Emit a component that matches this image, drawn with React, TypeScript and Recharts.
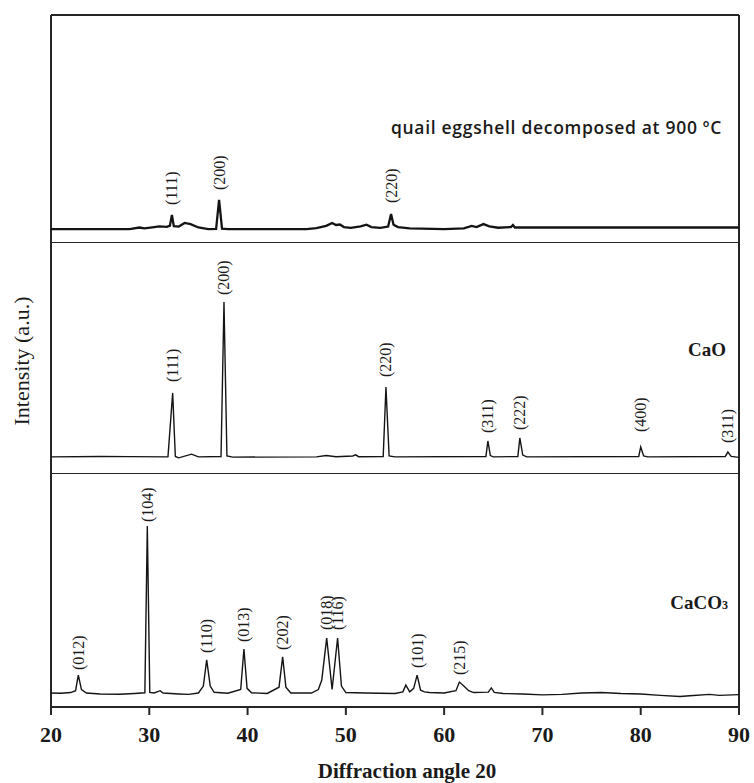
import React from 'react';
import { ComposedChart, Line, Scatter, XAxis, YAxis, ReferenceLine } from 'recharts';

// ---------- data (2θ in degrees, intensity in a.u. scaled 0–100 per panel) ----------
const eggX = [20, 28, 29, 29.5, 30.5, 31, 31.8, 32.1, 32.3, 32.5, 33, 33.6, 34.2, 35, 36, 36.8, 37.1, 37.4, 38, 46, 47, 48, 48.6, 49, 49.4, 49.8, 50.5, 51.5, 52.1, 52.6, 53.5, 54.3, 54.6, 54.85, 55.3, 56.5, 60, 62, 62.8, 63.3, 64, 64.6, 65.5, 66.8, 67, 67.2, 70, 90];
const eggY = [6.1, 6.1, 6.8, 6.4, 7.0, 7.3, 7.1, 7.6, 12.3, 7.4, 7.2, 8.8, 8.3, 6.8, 6.1, 6.2, 18.9, 6.3, 6.1, 6.1, 6.5, 7.5, 8.8, 7.9, 8.1, 7.0, 6.6, 7.3, 8.0, 7.0, 6.6, 7.2, 12.7, 8.0, 7.0, 6.4, 6.1, 6.4, 7.5, 7.0, 8.3, 7.3, 6.7, 7.0, 7.9, 6.8, 6.8, 6.8];
const eggPeakX = [32.3, 37.1, 54.6];
const eggPeakLabelY = [16.7, 23.2, 17.5];
const eggPeakNames = ['(111)', '(200)', '(220)'];

const caoX = [20, 25, 28, 31.9, 32.38, 32.65, 33, 34.3, 35, 37.3, 37.6, 37.9, 38.5, 47, 48, 49, 50.7, 51, 51.3, 53.8, 54.08, 54.4, 55, 64.25, 64.45, 64.7, 65, 67.5, 67.7, 68.0, 68.4, 79.8, 80.0, 80.3, 80.7, 88.6, 88.87, 89.2, 90];
const caoY = [7.4, 7.6, 7.5, 7.4, 35.1, 7.6, 7.0, 8.6, 7.4, 7.6, 74.5, 7.8, 7.3, 7.4, 8.0, 7.5, 7.8, 8.3, 7.5, 7.6, 37.7, 7.8, 7.4, 7.6, 14.3, 8.0, 7.4, 7.6, 15.6, 8.2, 7.4, 7.6, 11.7, 7.8, 7.4, 7.6, 9.5, 7.6, 7.2];
const caoPeakX = [32.38, 37.6, 54.08, 64.45, 67.7, 80.0, 88.87];
const caoPeakLabelY = [39.8, 77.5, 42.0, 17.7, 19.0, 18.2, 13.4];
const caoPeakNames = ['(111)', '(200)', '(220)', '(311)', '(222)', '(400)', '(311)'];

const caco3X = [20, 21, 22, 22.5, 22.78, 23.1, 23.6, 25, 27, 28.5, 29.55, 29.8, 30.05, 30.5, 31.1, 31.4, 33, 34, 35, 35.5, 35.84, 36.2, 36.6, 38, 39.3, 39.63, 39.95, 40.4, 42, 43.2, 43.57, 43.9, 44.4, 46.5, 47.2, 47.55, 48.05, 48.6, 49.16, 49.55, 50, 52, 55, 55.8, 56.1, 56.5, 56.9, 57.25, 57.6, 58, 58.5, 60, 61.2, 61.55, 62, 62.5, 63, 64.5, 64.8, 65.1, 66, 68, 70, 72, 74, 76, 78, 80, 82, 84, 85, 87, 88, 90];
const caco3Y = [6.0, 5.9, 6.2, 7.0, 13.7, 7.5, 6.0, 5.6, 5.5, 5.8, 6.1, 77.7, 6.3, 6.0, 7.0, 6.0, 5.6, 5.4, 6.0, 9.0, 20.2, 9.0, 6.3, 5.9, 7.5, 24.9, 8.0, 6.1, 5.8, 8.5, 21.5, 8.5, 6.0, 6.0, 7.5, 11.6, 29.6, 7.5, 29.6, 9.0, 6.2, 6.0, 5.8, 6.5, 9.4, 6.5, 8.0, 13.7, 7.2, 6.5, 6.2, 6.0, 7.0, 10.7, 9.0, 7.0, 6.2, 6.4, 8.2, 6.3, 5.8, 5.6, 5.2, 5.4, 6.0, 6.2, 5.8, 5.6, 5.0, 4.5, 4.8, 5.4, 5.0, 5.3];
const caco3PeakX = [22.78, 29.8, 35.84, 39.63, 43.57, 48.05, 49.16, 57.25, 61.55];
const caco3PeakLabelY = [15.9, 79.4, 23.2, 27.9, 24.5, 33.0, 33.0, 16.7, 13.7];
const caco3PeakNames = ['(012)', '(104)', '(110)', '(013)', '(202)', '(018)', '(116)', '(101)', '(215)'];

const xTicks = [20, 30, 40, 50, 60, 70, 80, 90];

// ---------- helpers ----------
const toSeries = (xs: number[], ys: number[]) => xs.map((x, i) => ({ x, y: ys[i] }));
const toLabels = (xs: number[], ys: number[], names: string[]) => xs.map((x, i) => ({ x, y: ys[i], name: names[i] }));

const SERIF = "'Liberation Serif', 'Times New Roman', serif";
const FRAME = '#262626';
const W = 754;
const LEFT = 51;
const RIGHT = 15;

const PeakLabel = (p: any) => {
  const { cx, cy, payload } = p;
  if (cx == null || cy == null) return null;
  return (
    <text
      x={cx}
      y={cy}
      transform={`rotate(-90 ${cx} ${cy})`}
      textAnchor="start"
      dominantBaseline="central"
      fontFamily={SERIF}
      fontSize={16}
      fill="#1a1a1a"
    >
      {payload.name}
    </text>
  );
};

type PanelProps = {
  data: { x: number; y: number }[];
  labels: { x: number; y: number; name: string }[];
  height: number;
  top: number;
  marginTop: number;
  strokeWidth: number;
  bottomAxis: boolean;
  topBorder: boolean;
};

const Panel = ({ data, labels, height, top, marginTop, strokeWidth, bottomAxis, topBorder }: PanelProps) => (
  <div style={{ position: 'absolute', left: 0, top }}>
    <ComposedChart
      width={W}
      height={height}
      margin={{ top: marginTop, right: RIGHT, bottom: 0, left: LEFT }}
    >
      <XAxis
        dataKey="x"
        type="number"
        domain={[20, 90]}
        ticks={xTicks}
        interval={0}
        allowDataOverflow
        hide={!bottomAxis}
        axisLine={{ stroke: FRAME, strokeWidth: 2 }}
        tick={{ fontSize: 22, fontWeight: 'bold', fill: '#1a1a1a', fontFamily: SERIF }}
        tickLine={{ stroke: FRAME, strokeWidth: 2 }}
        tickSize={8}
        tickMargin={11}
        height={76}
        label={{
          value: 'Diffraction angle 20',
          position: 'insideBottom',
          offset: 5,
          dx: 12,
          fontSize: 21,
          fontWeight: 'bold',
          fontFamily: SERIF,
          fill: '#1a1a1a',
        }}
      />
      <YAxis type="number" domain={[0, 100]} allowDataOverflow hide />
      {topBorder && <ReferenceLine y={100} stroke={FRAME} strokeWidth={2} ifOverflow="visible" />}
      {!bottomAxis && <ReferenceLine y={0} stroke={FRAME} strokeWidth={2} ifOverflow="visible" />}
      <ReferenceLine x={20} stroke={FRAME} strokeWidth={2} ifOverflow="visible" />
      <ReferenceLine x={90} stroke={FRAME} strokeWidth={2} ifOverflow="visible" />
      <Line
        data={data}
        dataKey="y"
        type="linear"
        stroke="#141414"
        strokeWidth={strokeWidth}
        dot={false}
        isAnimationActive={false}
      />
      <Scatter data={labels} dataKey="y" shape={PeakLabel} isAnimationActive={false} />
    </ComposedChart>
  </div>
);

export default function App() {
  return (
    <div style={{ position: 'absolute', left: 0, top: 0, width: W, height: 783, background: '#fff', overflow: 'hidden' }}>
      <Panel
        data={toSeries(eggX, eggY)}
        labels={toLabels(eggPeakX, eggPeakLabelY, eggPeakNames)}
        height={243}
        top={0}
        marginTop={15}
        strokeWidth={2.3}
        bottomAxis={false}
        topBorder={true}
      />
      <Panel
        data={toSeries(caoX, caoY)}
        labels={toLabels(caoPeakX, caoPeakLabelY, caoPeakNames)}
        height={231}
        top={243}
        marginTop={0}
        strokeWidth={1.4}
        bottomAxis={false}
        topBorder={false}
      />
      <Panel
        data={toSeries(caco3X, caco3Y)}
        labels={toLabels(caco3PeakX, caco3PeakLabelY, caco3PeakNames)}
        height={309}
        top={474}
        marginTop={0}
        strokeWidth={1.4}
        bottomAxis={true}
        topBorder={false}
      />
      <svg width={W} height={783} style={{ position: 'absolute', left: 0, top: 0, pointerEvents: 'none' }}>
        <text
          x={21}
          y={361}
          transform="rotate(-90 21 361)"
          textAnchor="middle"
          dominantBaseline="central"
          fontFamily={SERIF}
          fontSize={22}
          fill="#1a1a1a"
        >
          Intensity (a.u.)
        </text>
        <text
          x={722}
          y={127}
          textAnchor="end"
          dominantBaseline="central"
          fontFamily="'Open Sans', 'Noto Sans', sans-serif"
          fontWeight={600}
          fontSize={17.5}
          letterSpacing={0.7}
          fill="#1a1a1a"
        >
          quail eggshell decomposed at 900 ºC
        </text>
        <text x={726} y={349} textAnchor="end" dominantBaseline="central" fontFamily={SERIF} fontWeight="bold" fontSize={19} fill="#1a1a1a">
          CaO
        </text>
        <text x={728} y={602} textAnchor="end" dominantBaseline="central" fontFamily={SERIF} fontWeight="bold" fontSize={19} fill="#1a1a1a">
          CaCO<tspan fontSize={12} dy={3}>3</tspan>
        </text>
      </svg>
    </div>
  );
}
